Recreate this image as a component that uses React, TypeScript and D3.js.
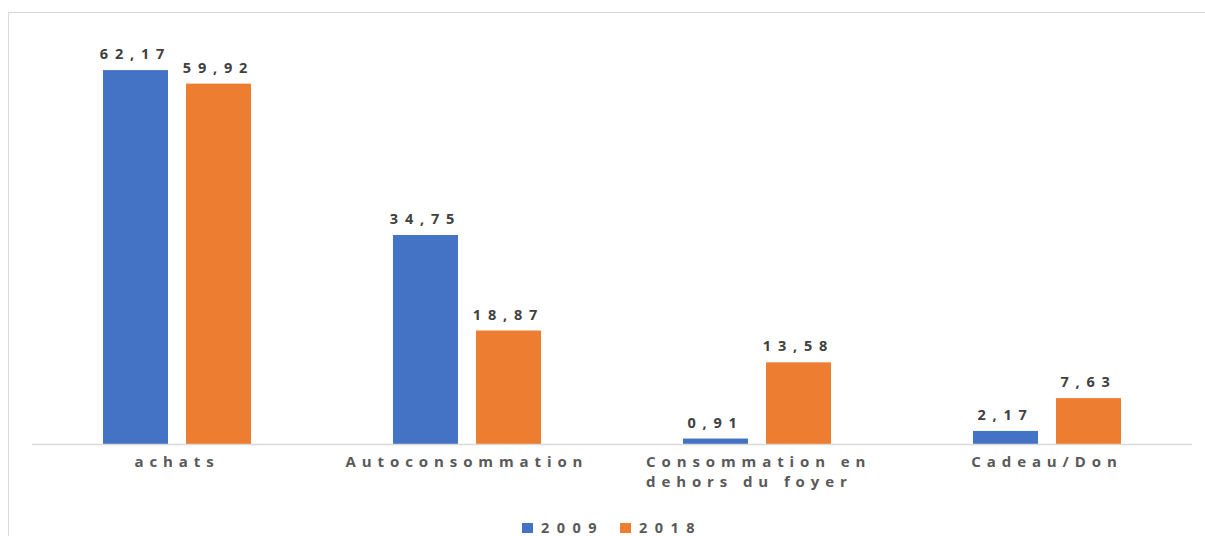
import React from "react";
import * as d3 from "d3";

const categories = ["achats", "Autoconsommation", "Consommation en|dehors du foyer", "Cadeau/Don"];
const series2009 = [62.17, 34.75, 0.91, 2.17];
const series2018 = [59.92, 18.87, 13.58, 7.63];
const seriesNames = ["2009", "2018"];
const colors = ["#4472C4", "#ED7D31"];

export default function App() {
  const W = 1205, H = 536;
  const x0 = d3.scaleBand().domain(categories).range([32, 1192]);
  const x1 = d3.scaleBand().domain(seriesNames).range([0, 148]).paddingInner(0.217);
  const y = d3.scaleLinear().domain([0, 70]).range([444, 23]);
  const fmt = (v: number) => v.toFixed(2).replace(".", ",");
  const font = "'Open Sans', 'Noto Sans', sans-serif";
  const data = [series2009, series2018];
  const numLS = 6.8;
  const catLS = 5.9;
  return (
    <svg width={W} height={H} style={{ position: "absolute", left: 0, top: 0 }} fontFamily={font}>
      <rect x={0} y={0} width={W} height={H} fill="#fff" />
      <rect x={8.5} y={12.5} width={1400} height={800} fill="none" stroke="#d9d9d9" />
      {categories.map((c, ci) => {
        const cx = x0(c)! + x0.bandwidth() / 2;
        const gx = cx - 74;
        return (
          <g key={c}>
            {data.map((s, si) => {
              const bx = gx + x1(seriesNames[si])!;
              const v = s[ci];
              return (
                <g key={si}>
                  <rect x={bx} y={y(v)} width={x1.bandwidth()} height={444 - y(v)} fill={colors[si]} />
                  <text x={bx + x1.bandwidth() / 2} y={y(v) - 11} textAnchor="middle" fontSize={14.5} fontWeight={700} letterSpacing={numLS} fill="#404040">{fmt(v)}</text>
                </g>
              );
            })}
          </g>
        );
      })}
      <line x1={32} x2={1192} y1={444.5} y2={444.5} stroke="#d9d9d9" strokeWidth={1.5} />
      {categories.map((c) => {
        const cx = x0(c)! + x0.bandwidth() / 2;
        const lines = c.split("|");
        if (lines.length === 1) {
          return <text key={c} x={cx} y={467} textAnchor="middle" fontSize={15} fontWeight={700} letterSpacing={catLS} fill="#595959">{c}</text>;
        }
        return (
          <g key={c}>
            {lines.map((l, i) => (
              <text key={i} x={cx - 111} y={467 + i * 20} textAnchor="start" fontSize={15} fontWeight={700} letterSpacing={catLS} fill="#595959">{l}</text>
            ))}
          </g>
        );
      })}
      {seriesNames.map((n, i) => (
        <g key={n} transform={`translate(${522 + i * 98},0)`}>
          <rect x={0} y={523} width={11} height={10} fill={colors[i]} />
          <text x={19} y={533} fontSize={14.5} fontWeight={700} letterSpacing={7.5} fill="#595959">{n}</text>
        </g>
      ))}
    </svg>
  );
}
